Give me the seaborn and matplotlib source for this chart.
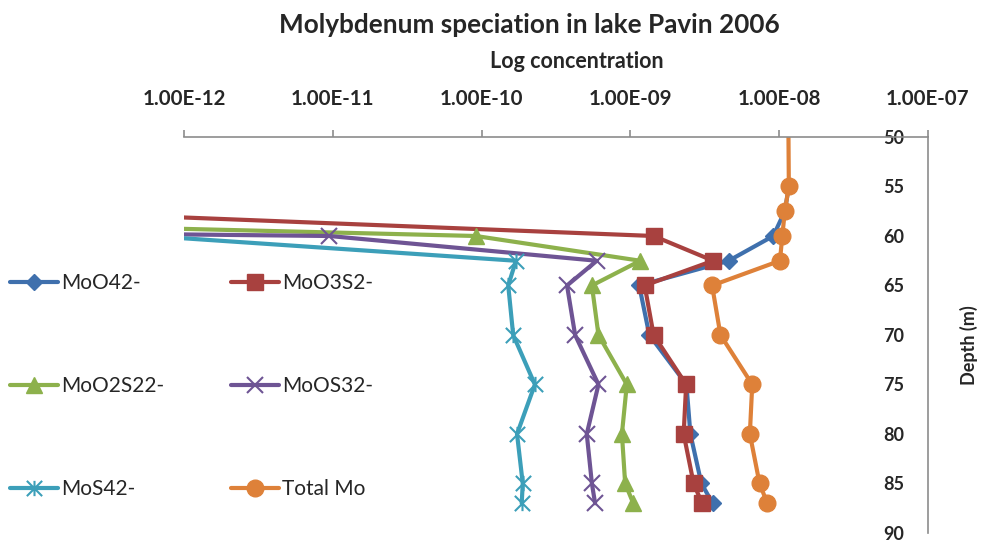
import numpy as np
import pandas as pd
import seaborn as sns
import matplotlib.pyplot as plt
from matplotlib.path import Path
from matplotlib.lines import Line2D
from matplotlib.ticker import FixedLocator, FuncFormatter, NullLocator

# depth profiles (m) and concentrations
depth_total = [45, 55, 57.5, 60, 62.5, 65, 70, 75, 80, 85, 87]
total_mo = [1.148e-8, 1.161e-8, 1.091e-8, 1.049e-8, 1.012e-8, 3.54e-9,
            4.03e-9, 6.59e-9, 6.35e-9, 7.38e-9, 8.32e-9]

depth_species = [55, 57.5, 60, 62.5, 65, 70, 75, 80, 85, 87]
moo4 = [1.161e-8, 1.091e-8, 9.12e-9, 4.58e-9, 1.146e-9, 1.34e-9, 2.38e-9,
        2.53e-9, 3.00e-9, 3.57e-9]
moo3s = [1e-16, 8.6e-14, 1.432e-9, 3.60e-9, 1.247e-9, 1.432e-9, 2.37e-9,
         2.28e-9, 2.66e-9, 3.03e-9]
moo2s2 = [1e-20, 1.41e-17, 9.14e-11, 1.164e-9, 5.51e-10, 6.10e-10, 9.46e-10,
          8.77e-10, 9.22e-10, 1.045e-9]
moos3 = [1e-30, 2.2e-27, 9.48e-12, 5.94e-10, 3.75e-10, 4.25e-10, 6.10e-10,
         5.09e-10, 5.51e-10, 5.79e-10]
mos4 = [1e-20, 1e-16, 5.9e-13, 1.70e-10, 1.51e-10, 1.63e-10, 2.28e-10,
        1.73e-10, 1.89e-10, 1.86e-10]

names = ["MoO42-", "MoO3S2-", "MoO2S22-", "MoOS32-", "MoS42-", "Total Mo"]
xticks = [1e-12, 1e-11, 1e-10, 1e-9, 1e-8, 1e-7]
yticks = [50, 55, 60, 65, 70, 75, 80, 85, 90]

# excel style asterisk: X plus a vertical bar
star = Path([(0, -1), (0, 1), (-1, -1), (1, 1), (-1, 1), (1, -1)],
            [Path.MOVETO, Path.LINETO, Path.MOVETO, Path.LINETO, Path.MOVETO, Path.LINETO])

series = [
    (names[0], moo4, depth_species, "#3F70AD", "D", 8, 1),
    (names[1], moo3s, depth_species, "#A8413F", "s", 11.5, 1),
    (names[2], moo2s2, depth_species, "#8DB14C", "^", 12, 1),
    (names[3], moos3, depth_species, "#6E5494", "x", 11, 1.5),
    (names[4], mos4, depth_species, "#3C9FB9", star, 11, 1.5),
    (names[5], total_mo, depth_total, "#DE8139", "o", 12, 1),
]

sns.set_style("white")
plt.rcParams['font.family'] = ['Lato', 'DejaVu Sans']
gray = "#8c8c8c"

fig = plt.figure(figsize=(9.82, 5.40), dpi=100)
ax = fig.add_axes([0.1874, 0.0130, 0.9450 - 0.1874, 0.7463 - 0.0130])
ax.set_xscale('log')

handles = {}
for name, vals, dep, col, mk, ms, mew in series:
    sns.lineplot(x=vals, y=dep, sort=False, estimator=None, color=col, lw=3,
                 marker=mk, markersize=ms, markeredgecolor=col, markeredgewidth=mew,
                 ax=ax, legend=False)
    handles[name] = Line2D([], [], color=col, lw=3, marker=mk, markersize=ms,
                           markeredgecolor=col, markeredgewidth=mew)

ax.set_xlim(1e-12, 1e-7)
ax.set_ylim(90, 50)
ax.xaxis.tick_top()
ax.xaxis.set_major_locator(FixedLocator(xticks))
ax.xaxis.set_minor_locator(NullLocator())
ax.xaxis.set_major_formatter(FuncFormatter(lambda v, p: f"{v:.2E}"))
ax.set_yticks(yticks)

ax.spines['left'].set_position(('axes', 1.0))
ax.spines['right'].set_visible(False)
ax.spines['bottom'].set_visible(False)
for s in ['left', 'top']:
    ax.spines[s].set_color(gray)
    ax.spines[s].set_linewidth(1.2)

ax.tick_params(axis='x', direction='out', length=5, width=1.2, color=gray,
               pad=15, labelsize=14.8)
ax.tick_params(axis='y', direction='out', length=5, width=1.2, color=gray,
               pad=12, labelsize=13)
for lab in ax.get_xticklabels() + ax.get_yticklabels():
    lab.set_fontweight('bold')

ax.set_xlabel('')
ax.set_ylabel('')
fig.text(577 / 982, 1 - 61 / 540, 'Log concentration', ha='center', va='center',
         fontsize=15.5, fontweight='bold')
fig.text(969 / 982, 1 - 345 / 540, 'Depth (m)', rotation=90, ha='center', va='center',
         fontsize=13, fontweight='bold')
fig.text(529 / 982, 1 - 25 / 540, 'Molybdenum speciation in lake Pavin 2006',
         ha='center', va='center', fontsize=18.8, fontweight='bold')

order = [names[0], names[2], names[4], names[1], names[3], names[5]]
fig.legend([handles[n] for n in order], order, loc='upper left',
           bbox_to_anchor=(10 / 982, 1 - 273 / 540), ncol=2, frameon=False,
           fontsize=15, handlelength=2.3, handletextpad=0.15, columnspacing=3.2,
           labelspacing=3.98, borderaxespad=0, borderpad=0)

fig.savefig('out.png', dpi=100)
